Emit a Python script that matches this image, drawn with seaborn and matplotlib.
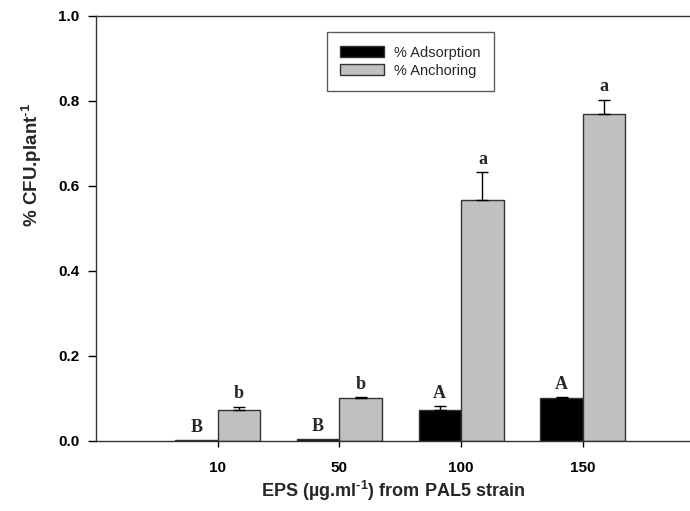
import pandas as pd
import matplotlib
matplotlib.use("Agg")
import matplotlib.pyplot as plt
import seaborn as sns

# values
doses = ["10", "50", "100", "150"]
adsorption = [0.002, 0.005, 0.074, 0.100]
adsorption_err = [0.0, 0.0, 0.008, 0.003]
anchoring = [0.073, 0.100, 0.567, 0.768]
anchoring_err = [0.008, 0.003, 0.066, 0.035]
adsorption_letters = ["B", "B", "A", "A"]
anchoring_letters = ["b", "b", "a", "a"]

df = pd.DataFrame({
    "dose": doses * 2,
    "value": adsorption + anchoring,
    "series": ["% Adsorption"] * 4 + ["% Anchoring"] * 4,
})

sns.set_style("ticks")
plt.rcParams["font.family"] = ["Liberation Sans", "DejaVu Sans"]
plt.rcParams["mathtext.fontset"] = "custom"
plt.rcParams["mathtext.rm"] = "Liberation Sans:bold"
plt.rcParams["mathtext.bf"] = "Liberation Sans:bold"
plt.rcParams["mathtext.it"] = "Liberation Sans:bold"

fig = plt.figure(figsize=(6.9, 5.11), dpi=100)
ax = fig.add_axes([0.139, 0.137, 0.861, 0.832])

sns.barplot(data=df, x="dose", y="value", hue="series",
            palette=["black", "#c0c0c0"], width=0.7, gap=0,
            edgecolor="#333333", linewidth=1, errorbar=None, ax=ax)

# error bars (upper only) and significance letters
for bars, errs, letters in zip(ax.containers, [adsorption_err, anchoring_err],
                               [adsorption_letters, anchoring_letters]):
    for bar, err, lab in zip(bars, errs, letters):
        xc = bar.get_x() + bar.get_width() / 2
        top = bar.get_height()
        if err > 0:
            ax.errorbar(xc, top, yerr=[[0], [err]], fmt="none", ecolor="black",
                        elinewidth=1, capsize=4.5, capthick=1)
        ax.text(xc, top + err + 0.01, lab, ha="center", va="bottom",
                family="Liberation Serif", fontweight="bold", fontsize=13)

ax.set_ylim(0, 1.0)
ax.set_xlim(-1, 3.88)
ax.set_yticks([0.0, 0.2, 0.4, 0.6, 0.8, 1.0])
ax.set_yticklabels(["0.0", "0.2", "0.4", "0.6", "0.8", "1.0"])
for lab in ax.get_xticklabels() + ax.get_yticklabels():
    lab.set_fontweight("bold")
    lab.set_fontsize(11)
ax.tick_params(axis="y", direction="out", length=6, width=1, colors="black", pad=6)
ax.tick_params(axis="x", direction="out", length=4.5, width=1, colors="black", pad=10)

ax.set_ylabel(r"$\mathbf{\%\ CFU\text{.}plant^{\text{-}1}}$", fontsize=13.5)
ax.yaxis.set_label_coords(-0.087, 0.65)
ax.set_xlabel(r"$\mathbf{EPS\ (µg\text{.}ml^{\text{-}1})\ from\ PAL5\ strain}$",
              fontsize=13, labelpad=3)

sns.despine(ax=ax, right=True, top=False)
for s in ["left", "bottom", "top"]:
    ax.spines[s].set_color("#333333")
    ax.spines[s].set_linewidth(1)

leg = ax.legend(loc="upper left", bbox_to_anchor=(0.389, 0.961), frameon=True,
                fancybox=False, edgecolor="#333333", fontsize=10.5,
                handlelength=3.0, handleheight=0.75, handletextpad=0.7,
                borderpad=0.9, labelspacing=0.3, borderaxespad=0)
leg.get_frame().set_linewidth(1)

fig.savefig("out.png", dpi=100)
